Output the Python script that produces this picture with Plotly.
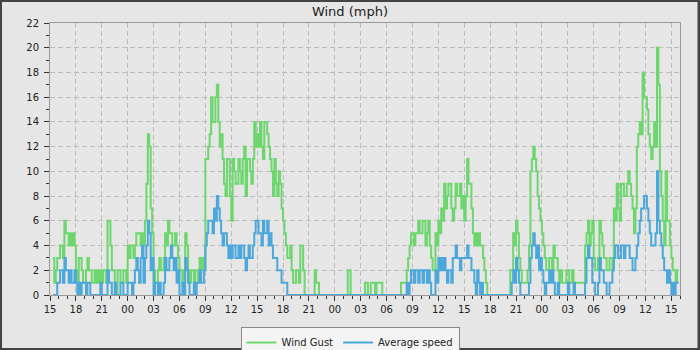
import pandas as pd
import plotly.graph_objects as go

# Wind gust (mph), one reading every 10 minutes from 15:20 on day 1
gust = [
    3, 1, 2, 3,
    3, 4, 4, 3, 6, 5,   5, 4, 5, 4, 5, 4,   2, 1, 3, 3, 2, 1,
    1, 2, 3, 2, 2, 1,   1, 2, 1, 2, 1, 2,   1, 2, 2, 1, 6, 6,
    4, 2, 2, 1, 0, 2,   2, 1, 1, 2, 2, 1,   4, 3, 4, 4, 3, 4,
    5, 5, 5, 4, 5, 4,   6, 9, 13, 12, 7, 5, 2, 1, 1, 2, 3, 2,
    2, 3, 5, 4, 6, 5,   5, 4, 4, 5, 4, 3,   2, 2, 1, 2, 5, 4,
    2, 1, 2, 2, 1, 2,   2, 1, 3, 2, 3, 2,   11, 11, 12, 13, 16, 14,
    14, 16, 17, 14, 12, 13, 11, 9, 8, 11, 11, 8, 6, 11, 10, 9, 9, 11,
    10, 9, 11, 12, 8, 11, 11, 10, 9, 11, 14, 12, 13, 12, 14, 12, 11, 14,
    14, 13, 12, 11, 10, 8, 11, 9, 8, 10, 9, 7, 6, 5, 4, 3, 3, 4,
    2, 1, 1, 2, 2, 1,   4, 4, 2, 0, 0, 0,   0, 0, 0, 0, 2, 1,
    1, 0, 0, 0, 0, 0,   0, 0, 0, 0, 0, 0,   0, 0, 0, 0, 0, 0,
    0, 0, 0, 2, 2, 0,   0, 0, 0, 0, 0, 0,   0, 0, 0, 1, 1, 0,
    0, 1, 1, 1, 0, 1,   1, 1, 1, 0, 0, 0,   0, 0, 0, 0, 0, 0,
    0, 0, 0, 0, 1, 1,   1, 1, 2, 3, 4, 5,   5, 4, 5, 5, 6, 5,
    5, 6, 6, 4, 5, 6,   4, 3, 2, 2, 5, 4,   6, 5, 7, 6, 9, 7,
    8, 9, 9, 7, 6, 7,   9, 8, 8, 9, 7, 8,   6, 8, 11, 9, 9, 7,
    5, 4, 5, 4, 5, 4,   4, 3, 2, 1, 0, 0,   0, 0, 0, 0, 0, 0,
    0, 0, 0, 0, 0, 0,   0, 0, 2, 2, 5, 4,   6, 5, 3, 2, 1, 1,
    1, 1, 2, 4, 10, 11, 12, 11, 10, 8, 7, 6, 5, 4, 3, 2, 2, 3,
    3, 2, 4, 3, 3, 2,   1, 2, 1, 1, 1, 2,   2, 1, 1, 2, 1, 1,
    1, 1, 1, 1, 1, 1,   4, 5, 6, 4, 5, 6,   3, 2, 2, 3, 6, 5,
    4, 3, 3, 2, 2, 3,   3, 2, 7, 6, 9, 7,   6, 9, 9, 8, 8, 9,
    10, 9, 8, 7, 5, 7,  12, 13, 14, 13, 18, 16, 16, 15, 13, 12, 11, 12,
    14, 12, 20, 17, 10, 8, 6, 4, 10, 6, 6, 4, 3, 2, 2, 1, 2, 2,
]

# Average wind speed (mph), same readings
avg = [
    0, 0, 0, 1,
    1, 2, 2, 1, 3, 2,   2, 1, 2, 1, 1, 2,   1, 0, 1, 0, 1, 1,
    1, 0, 1, 1, 0, 0,   0, 0, 0, 0, 0, 1,   0, 0, 0, 0, 2, 1,
    1, 0, 0, 1, 0, 0,   0, 1, 1, 0, 0, 0,   1, 1, 1, 0, 1, 2,
    3, 2, 1, 3, 4, 1,   3, 4, 6, 5, 2, 3,   0, 1, 1, 0, 1, 0,
    0, 1, 3, 2, 2, 3,   4, 3, 2, 3, 1, 2,   0, 0, 1, 0, 3, 2,
    1, 0, 0, 0, 1, 0,   1, 1, 2, 1, 1, 2,   4, 5, 6, 6, 6, 5,
    7, 6, 8, 7, 6, 5,   4, 5, 5, 4, 3, 4,   3, 4, 4, 3, 3, 4,
    3, 4, 4, 3, 2, 3,   4, 3, 3, 4, 5, 6,   6, 5, 5, 4, 6, 5,
    5, 6, 4, 5, 4, 3,   3, 3, 2, 2, 2, 1,   1, 1, 1, 0, 0, 0,
    0, 0, 0, 0, 0, 0,   0, 0, 0, 0, 0, 0,   0, 0, 0, 0, 0, 0,
    0, 0, 0, 0, 0, 0,   0, 0, 0, 0, 0, 0,   0, 0, 0, 0, 0, 0,
    0, 0, 0, 0, 0, 0,   0, 0, 0, 0, 0, 0,   0, 0, 0, 0, 0, 0,
    0, 0, 0, 0, 0, 0,   0, 0, 0, 0, 0, 0,   0, 0, 0, 0, 0, 0,
    0, 0, 0, 0, 0, 0,   0, 0, 1, 0, 1, 2,   2, 1, 2, 2, 1, 2,
    2, 1, 2, 2, 1, 2,   1, 0, 0, 0, 2, 1,   3, 2, 3, 2, 3, 2,
    1, 2, 2, 1, 3, 3,   4, 3, 3, 2, 3, 3,   3, 3, 4, 3, 3, 2,
    2, 1, 0, 2, 1, 0,   1, 0, 0, 0, 0, 0,   0, 0, 0, 0, 0, 0,
    0, 0, 0, 0, 0, 0,   0, 0, 0, 1, 2, 1,   3, 2, 1, 0, 0, 0,
    0, 0, 0, 1, 3, 4,   5, 4, 3, 4, 2, 3,   2, 1, 0, 1, 1, 2,
    1, 2, 1, 0, 0, 1,   0, 0, 0, 0, 0, 0,   1, 0, 0, 0, 1, 0,
    0, 0, 0, 0, 0, 0,   1, 3, 4, 3, 3, 1,   1, 0, 0, 1, 3, 2,
    2, 1, 1, 0, 0, 1,   1, 2, 3, 4, 4, 3,   3, 4, 4, 3, 4, 4,
    4, 3, 3, 2, 2, 3,   4, 5, 6, 7, 7, 8,   8, 7, 6, 5, 4, 4,
    4, 5, 10, 6, 5, 4,  3, 2, 2, 1, 2, 1,   0, 1, 0, 1, 1, 1,
]

series_names = ["Wind Gust", "Average speed"]
title_text = "Wind (mph)"

times = pd.date_range("2024-05-01 15:20", periods=len(gust), freq="10min")
x_start = pd.Timestamp("2024-05-01 15:00")
x_end = x_start + pd.Timedelta(hours=73)

GREEN = "rgb(110,214,110)"
BLUE = "rgb(76,168,218)"
BG = "#e6e6e6"

fig = go.Figure()
fig.add_trace(go.Scatter(x=times, y=gust, name=series_names[0], mode="lines",
                         line=dict(color=GREEN, width=2, shape="hv")))
fig.add_trace(go.Scatter(x=times, y=avg, name=series_names[1], mode="lines",
                         line=dict(color=BLUE, width=2, shape="hv")))

L, R, T, B = 50, 20, 23, 55
W, H = 700, 350
PW, PH = W - L - R, H - T - B


def px(xp):
    return (xp - L) / PW


def py(yp):
    return (H - B - yp) / PH


axis_font = dict(family="DejaVu Sans", size=10, color="#222")

fig.update_layout(
    width=W, height=H,
    margin=dict(l=L, r=R, t=T, b=B, pad=0),
    paper_bgcolor=BG, plot_bgcolor=BG,
    font=dict(family="DejaVu Sans", size=10, color="#222"),
    title=dict(text=title_text, x=0.5, xref="container", xanchor="center",
               y=1 - 11 / H, yref="container", yanchor="middle",
               font=dict(family="DejaVu Sans", size=13, color="#222")),
    showlegend=True,
    legend=dict(orientation="h", xref="container", x=0.5, xanchor="center",
                yref="container", y=(H - 327) / H, yanchor="top",
                bgcolor="#f4f4f4", bordercolor="#888", borderwidth=1,
                font=dict(family="DejaVu Sans", size=10, color="#222"),
                itemwidth=30, tracegroupgap=0),
    xaxis=dict(
        type="date", range=[x_start, x_end],
        tick0=x_start, dtick=3 * 3600 * 1000, tickformat="%H",
        ticks="outside", ticklen=5, tickcolor="#333", tickwidth=1,
        showline=True, linecolor="#999", linewidth=1, mirror=True,
        showgrid=True, gridcolor="#bdbdbd", griddash="5px,3px", gridwidth=1,
        minor=dict(dtick=3600 * 1000, ticks="outside", ticklen=3,
                   tickcolor="#333", showgrid=False),
        tickfont=axis_font, zeroline=False,
    ),
    yaxis=dict(
        range=[0, 22], dtick=2, tick0=0,
        ticks="outside", ticklen=5, tickcolor="#333", tickwidth=1,
        showline=True, linecolor="#999", linewidth=1, mirror=True,
        showgrid=True, gridcolor="#bdbdbd", griddash="5px,3px", gridwidth=1,
        minor=dict(dtick=1, ticks="outside", ticklen=3, tickcolor="#333",
                   showgrid=False),
        tickfont=axis_font, zeroline=False, ticklabelstandoff=3,
    ),
    shapes=[
        dict(type="rect", xref="paper", yref="paper",
             x0=px(1), x1=px(698.5), y0=py(349), y1=py(1),
             line=dict(color="#444", width=2), fillcolor="rgba(0,0,0,0)",
             layer="above"),
        dict(type="line", xref="paper", yref="paper",
             x0=px(699), x1=px(699), y0=py(350), y1=py(0),
             line=dict(color="#444", width=2), layer="above"),
    ],
)

fig.write_html("out.html")
